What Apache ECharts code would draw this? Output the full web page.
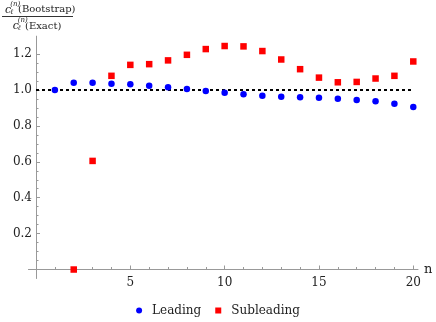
<!DOCTYPE html>
<html>
<head>
<meta charset="utf-8">
<script src="https://cdn.jsdelivr.net/npm/echarts@6/dist/echarts.min.js"></script>
<style>
  html, body { margin: 0; padding: 0; background: #fff; }
  #chart { width: 436px; height: 322px; }
</style>
</head>
<body>
<div id="chart"></div>
<script>
// n 的取值
const nLeading = [1, 2, 3, 4, 5, 6, 7, 8, 9, 10, 11, 12, 13, 14, 15, 16, 17, 18, 19, 20];
const leading = [1.000, 1.041, 1.041, 1.035, 1.032, 1.024, 1.015, 1.006, 0.994, 0.985,
  0.976, 0.968, 0.963, 0.959, 0.957, 0.951, 0.944, 0.937, 0.923, 0.905];
const nSub = [2, 3, 4, 5, 6, 7, 8, 9, 10, 11, 12, 13, 14, 15, 16, 17, 18, 19, 20];
const subleading = [0.000, 0.605, 1.079, 1.140, 1.144, 1.165, 1.196, 1.228, 1.245, 1.243,
  1.217, 1.170, 1.116, 1.069, 1.043, 1.045, 1.064, 1.079, 1.159];
// 参考线 y = 1
const refLevel = 1;
const refRange = [0, 20];

const font = 'DejaVu Serif';
const axisColor = '#999';
const labelColor = '#222';

const chart = echarts.init(document.getElementById('chart'));

const zip = (xs, ys) => xs.map((x, i) => [x, ys[i]]);

// 标题里的一段文字
const txt = (x, y, text, size, italic) => ({
  type: 'text',
  style: {
    x: x,
    y: y,
    text: text,
    font: (italic ? 'italic ' : '') + size + 'px DejaVu Serif',
    fill: labelColor,
    verticalAlign: 'middle'
  }
});

const option = {
  animation: false,
  grid: [
    // 坐标轴线用的 grid
    { left: 28.45, right: 18, top: 36.15, bottom: 43.5 },
    // 刻度和标签用的 grid
    { left: 36, right: 22.7, top: 54.1, bottom: 52.5 }
  ],
  xAxis: [{
      gridIndex: 0,
      type: 'value',
      min: -0.4,
      max: 20.25,
      axisLine: { show: true, onZero: true, lineStyle: { color: axisColor, width: 1 } },
      axisTick: { show: false },
      axisLabel: { show: false },
      splitLine: { show: false },
      name: 'n',
      nameLocation: 'end',
      nameGap: 6,
      nameTextStyle: { fontFamily: font, fontSize: 13, color: labelColor }
    },
    {
      gridIndex: 1,
      type: 'value',
      min: 0,
      max: 20,
      interval: 5,
      axisLine: { show: false },
      axisTick: { show: true, inside: true, length: 4, lineStyle: { color: axisColor } },
      minorTick: { show: true, splitNumber: 5, length: 2.5, lineStyle: { color: axisColor } },
      axisLabel: {
        margin: 7,
        fontFamily: font,
        fontSize: 12,
        color: labelColor,
        formatter: v => (v === 0 ? '' : String(v))
      },
      splitLine: { show: false },
      minorSplitLine: { show: false }
    }
  ],
  yAxis: [{
      gridIndex: 0,
      type: 'value',
      min: -0.05,
      max: 1.3,
      axisLine: { show: true, onZero: true, lineStyle: { color: axisColor, width: 1 } },
      axisTick: { show: false },
      axisLabel: { show: false },
      splitLine: { show: false }
    },
    {
      gridIndex: 1,
      type: 'value',
      min: 0,
      max: 1.2,
      interval: 0.2,
      axisLine: { show: false },
      axisTick: { show: true, inside: true, length: 4, lineStyle: { color: axisColor } },
      minorTick: { show: true, splitNumber: 4, length: 2.5, lineStyle: { color: axisColor } },
      axisLabel: {
        margin: 4,
        fontFamily: font,
        fontSize: 12,
        color: labelColor,
        formatter: v => (Math.abs(v) < 1e-9 ? '' : v.toFixed(1))
      },
      splitLine: { show: false },
      minorSplitLine: { show: false }
    }
  ],
  legend: {
    data: [
      { name: 'Leading', icon: 'circle' },
      { name: 'Subleading', icon: 'path://M0 0H10V10H0Z' }
    ],
    left: 'center',
    top: 299.5,
    itemWidth: 16,
    itemHeight: 6,
    itemGap: 14,
    textStyle: { fontFamily: font, fontSize: 12, color: labelColor }
  },
  graphic: [
    // 纵轴标题：分数形式
    txt(5, 10, 'c', 11, true),
    txt(10.2, 4, '(n)', 7, true),
    txt(10.5, 12, 'ℓ', 7, true),
    txt(18, 9.5, '(Bootstrap)', 10, false),
    { type: 'line', shape: { x1: 2, y1: 16.5, x2: 73, y2: 16.5 }, style: { stroke: '#333', lineWidth: 1 } },
    txt(12.8, 26.5, 'c', 11, true),
    txt(17.8, 20.5, '(n)', 7, true),
    txt(18.1, 28.2, 'ℓ', 7, true),
    txt(25, 26, '(Exact)', 10, false)
  ],
  series: [{
      name: 'ref',
      type: 'line',
      xAxisIndex: 0,
      yAxisIndex: 0,
      data: refRange.map(x => [x, refLevel]),
      symbol: 'none',
      z: 1,
      lineStyle: { color: '#000', width: 2, type: [3, 3] },
      silent: true
    },
    {
      name: 'Leading',
      type: 'scatter',
      xAxisIndex: 0,
      yAxisIndex: 0,
      data: zip(nLeading, leading),
      symbol: 'circle',
      symbolSize: 6.5,
      itemStyle: { color: '#0000ff', opacity: 1 },
      z: 3
    },
    {
      name: 'Subleading',
      type: 'scatter',
      xAxisIndex: 0,
      yAxisIndex: 0,
      data: zip(nSub, subleading),
      symbol: 'rect',
      symbolSize: 6.5,
      itemStyle: { color: '#ff0000', opacity: 1 },
      clip: false,
      z: 3
    }
  ]
};

chart.setOption(option);
</script>
</body>
</html>
